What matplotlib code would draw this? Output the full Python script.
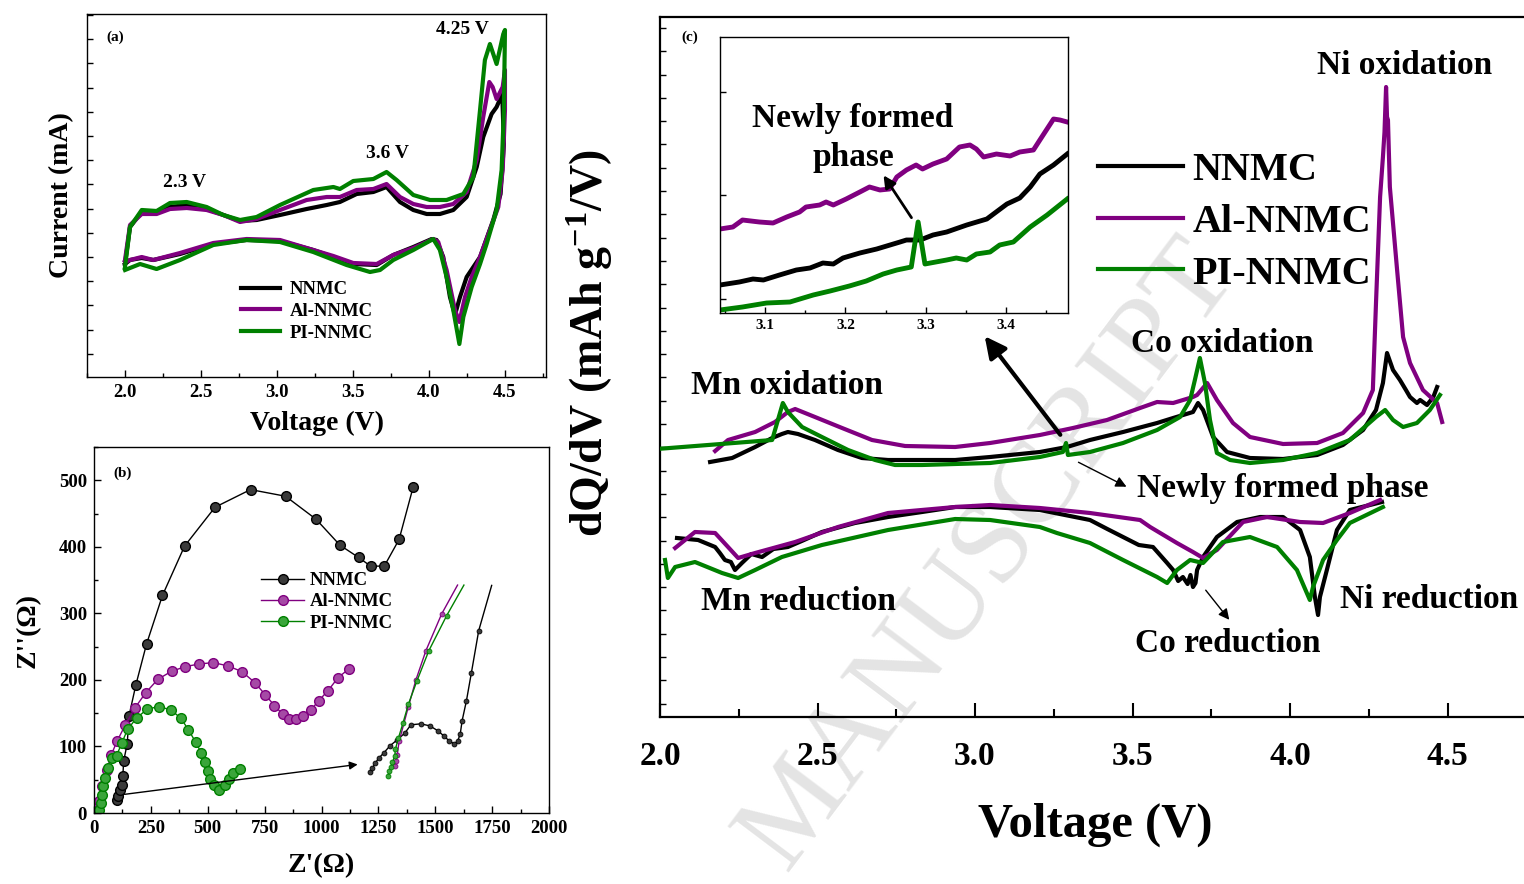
import numpy as np
import matplotlib
matplotlib.use('Agg')
import matplotlib.pyplot as plt
from matplotlib.ticker import MultipleLocator, NullFormatter

plt.rcParams['font.family'] = ['Liberation Serif', 'DejaVu Serif']
plt.rcParams['font.weight'] = 'bold'
plt.rcParams['axes.labelweight'] = 'bold'
plt.rcParams['mathtext.fontset'] = 'custom'
plt.rcParams['mathtext.rm'] = 'Liberation Serif:bold'
plt.rcParams['mathtext.bf'] = 'Liberation Serif:bold'
plt.rcParams['mathtext.it'] = 'Liberation Serif:bold'

BLK = 'black'
PUR = '#800080'
GRN = '#008000'
labels = ['NNMC', 'Al-NNMC', 'PI-NNMC']

# ---------- (a) CV curves (voltage V, current arb.) ----------
cv_nnmc_v = [2.000, 2.033, 2.110, 2.208, 2.296, 2.406, 2.537, 2.647, 2.757, 2.866, 3.020, 3.195, 3.327,
             3.414, 3.524, 3.634, 3.721, 3.809, 3.897, 3.985, 4.072, 4.160, 4.248, 4.314, 4.357, 4.412,
             4.445, 4.482, 4.493, 4.471, 4.423, 4.336, 4.292, 4.248, 4.204, 4.171, 4.138, 4.094, 4.050,
             4.018, 3.897, 3.765, 3.656, 3.502, 3.371, 3.239, 3.020, 2.800, 2.581, 2.362, 2.186, 2.110,
             2.033, 2.000]
cv_nnmc_i = [11.3, 15.0, 16.5, 16.4, 17.0, 17.2, 16.8, 16.2, 15.6, 15.7, 16.2, 16.8, 17.2,
             17.5, 18.3, 18.5, 19.0, 17.5, 16.7, 16.3, 16.3, 16.7, 18.0, 21.0, 24.0, 26.3,
             27.0, 28.3, 23.3, 18.3, 15.7, 12.0, 11.0, 10.0, 8.0, 6.2, 8.0, 12.0, 13.7,
             13.8, 13.0, 12.2, 11.2, 11.3, 12.0, 12.7, 13.6, 13.7, 13.3, 12.3, 11.7, 11.9,
             11.7, 11.3]

cv_al_v = [2.000, 2.033, 2.110, 2.208, 2.296, 2.406, 2.537, 2.647, 2.757, 2.866, 3.020, 3.195, 3.327,
           3.414, 3.524, 3.634, 3.721, 3.809, 3.897, 3.985, 4.072, 4.160, 4.248, 4.314, 4.357, 4.397,
           4.419, 4.445, 4.485, 4.500, 4.500, 4.485, 4.456, 4.401, 4.336, 4.281, 4.237, 4.200, 4.171,
           4.116, 4.061, 4.028, 3.897, 3.765, 3.656, 3.502, 3.371, 3.239, 3.020, 2.800, 2.581, 2.362,
           2.186, 2.110, 2.033, 2.000]
cv_al_i = [11.7, 15.2, 16.3, 16.3, 16.8, 16.9, 16.7, 16.2, 15.5, 15.8, 16.7, 17.7, 18.0,
           18.0, 18.7, 18.8, 19.3, 18.0, 17.3, 17.0, 17.0, 17.3, 18.5, 21.7, 26.0, 29.5,
           29.0, 27.8, 29.0, 30.7, 26.7, 20.7, 17.0, 14.7, 12.0, 10.0, 8.0, 5.5, 6.7,
           10.7, 13.5, 13.8, 12.9, 12.2, 11.3, 11.4, 12.1, 12.7, 13.7, 13.8, 13.4, 12.4,
           11.7, 12.0, 11.7, 11.5]

cv_pi_v = [2.000, 2.033, 2.110, 2.208, 2.296, 2.406, 2.537, 2.647, 2.757, 2.866, 3.020, 3.239, 3.371,
           3.414, 3.502, 3.634, 3.721, 3.787, 3.897, 4.007, 4.116, 4.226, 4.292, 4.336, 4.368, 4.401,
           4.445, 4.489, 4.500, 4.493, 4.478, 4.445, 4.379, 4.336, 4.281, 4.226, 4.200, 4.160, 4.116,
           4.072, 4.028, 3.897, 3.765, 3.678, 3.612, 3.458, 3.239, 3.020, 2.800, 2.581, 2.362, 2.208,
           2.099, 2.000]
cv_pi_i = [11.0, 15.0, 16.7, 16.6, 17.4, 17.5, 17.0, 16.2, 15.7, 16.0, 17.2, 18.7, 19.0,
           18.8, 19.6, 19.8, 20.5, 19.7, 18.2, 17.7, 17.7, 18.3, 20.0, 26.7, 31.7, 33.3,
           31.3, 34.3, 34.7, 26.7, 20.7, 16.7, 13.3, 11.3, 9.0, 6.0, 3.3, 6.7, 10.0,
           12.7, 13.8, 12.7, 11.7, 10.7, 10.5, 11.2, 12.5, 13.5, 13.7, 13.2, 11.7, 10.8,
           11.3, 10.7]

# ---------- (b) Nyquist data (ohm) ----------
nnmc_zr = [102, 106, 114, 122, 127, 130, 146, 154, 184, 231, 301, 398, 532, 688, 842, 976, 1081, 1163,
           1216, 1276, 1341, 1403]
nnmc_zi = [19, 26, 35, 42.5, 55, 77.5, 104, 146, 192.5, 254, 327, 401, 459.5, 486, 476, 441.5, 402.5,
           384, 371, 371, 411, 490]
al_zr = [11, 21, 37, 57, 76, 102, 138, 179, 228, 281, 341, 402, 463, 525, 589, 650, 707, 753, 793, 829,
         859, 889, 919, 954, 987, 1029, 1073, 1122]
al_zi = [5, 17.5, 40, 65, 87.5, 108.5, 132.5, 157.5, 181, 201, 213, 220, 224, 226, 221, 212.5, 196,
         177.5, 161.5, 148.5, 141, 141, 146.5, 155, 168.5, 184, 203.5, 217]
pi_zr = [24, 29, 34, 41, 49, 62, 78, 99, 122, 148, 187, 233, 285, 337, 382, 415, 447, 472, 488, 499,
         512, 528, 550, 574, 593, 613, 642]
pi_zi = [5, 15, 27.5, 40, 52.5, 67.5, 82.5, 86, 105, 126, 142.5, 156, 160, 155, 142.5, 125, 106.5, 90,
         76, 62.5, 51, 42.5, 35, 42.5, 51, 60, 66]
# enlarged high-frequency region drawn on the right
nnmc_zr_zoom = [1215, 1224, 1236, 1252, 1273, 1301, 1333, 1366, 1393, 1436, 1476, 1512, 1537, 1561,
                1582, 1598, 1610, 1618, 1637, 1659, 1691, 1748]
nnmc_zi_zoom = [61, 67.5, 75, 82.5, 90, 101, 110, 120, 132.5, 134, 131, 123.5, 116, 108.5, 104, 107.5,
                119, 138.5, 168.5, 211, 274, 342]
al_zr_zoom = [1322, 1328, 1333, 1341, 1382, 1415, 1459, 1528, 1598]
al_zi_zoom = [71, 78.5, 87.5, 107.5, 160, 200, 244, 299, 342.5]
pi_zr_zoom = [1293, 1298, 1304, 1312, 1322, 1325, 1338, 1358, 1382, 1420, 1472, 1550, 1626]
pi_zi_zoom = [56, 62.5, 68.5, 76, 86, 96, 112.5, 135, 163.5, 199, 244, 296.5, 342.5]

# ---------- (c) dQ/dV (voltage V, arb.) ----------
ch_nnmc_v = [2.159, 2.229, 2.302, 2.356, 2.387, 2.406, 2.438, 2.492, 2.565, 2.641, 2.724, 2.832, 2.937,
             3.048, 3.206, 3.292, 3.365, 3.470, 3.578, 3.629, 3.692, 3.708, 3.724, 3.756, 3.800, 3.873,
             3.978, 4.086, 4.168, 4.232, 4.273, 4.295, 4.308, 4.327, 4.349, 4.368, 4.381, 4.403, 4.413,
             4.435, 4.455, 4.467]
ch_nnmc_y = [25.5, 25.9, 27.0, 27.9, 28.3, 28.5, 28.3, 27.7, 26.7, 25.9, 25.7, 25.7, 25.7,
             26.0, 26.5, 27.0, 27.7, 28.5, 29.4, 29.9, 30.5, 31.4, 30.7, 28.0, 26.5, 25.9,
             25.8, 26.2, 27.2, 28.7, 30.7, 33.4, 36.4, 34.7, 33.7, 32.7, 32.0, 31.4, 31.7,
             31.2, 32.0, 33.0]
ch_al_v = [2.175, 2.216, 2.302, 2.365, 2.406, 2.429, 2.492, 2.578, 2.673, 2.778, 2.937, 3.048, 3.206,
           3.311, 3.419, 3.524, 3.578, 3.629, 3.692, 3.705, 3.737, 3.768, 3.819, 3.873, 3.978, 4.086,
           4.168, 4.232, 4.263, 4.273, 4.286, 4.295, 4.300, 4.305, 4.308, 4.311, 4.317, 4.340, 4.359,
           4.381, 4.422, 4.467, 4.483]
ch_al_y = [26.6, 27.7, 28.5, 29.5, 30.5, 30.8, 30.0, 28.9, 27.7, 27.1, 27.0, 27.4, 28.2,
           28.9, 29.7, 30.9, 31.5, 31.4, 32.0, 32.2, 33.4, 31.7, 29.4, 28.0, 27.3, 27.4,
           28.4, 30.4, 32.7, 41.4, 52.0, 56.0, 58.5, 63.0, 60.0, 59.7, 53.0, 44.7, 38.0,
           35.4, 32.7, 31.4, 29.5]
ch_pi_v = [1.990, 2.356, 2.390, 2.406, 2.451, 2.514, 2.597, 2.683, 2.746, 2.832, 2.937, 3.048, 3.206,
           3.279, 3.289, 3.295, 3.365, 3.470, 3.578, 3.651, 3.683, 3.698, 3.714, 3.730, 3.746, 3.768,
           3.810, 3.873, 3.978, 4.086, 4.190, 4.273, 4.302, 4.327, 4.359, 4.403, 4.444, 4.476]
ch_pi_y = [26.8, 27.7, 31.4, 30.5, 29.0, 28.0, 26.7, 25.7, 25.2, 25.2, 25.3, 25.4, 26.0,
           26.5, 27.4, 26.2, 26.5, 27.4, 28.7, 30.0, 31.7, 33.7, 35.9, 33.4, 29.7, 26.4,
           25.7, 25.4, 25.7, 26.4, 27.7, 30.0, 30.7, 29.7, 29.0, 29.4, 30.7, 32.2]

dis_nnmc_v = [4.292, 4.190, 4.149, 4.117, 4.095, 4.089, 4.079, 4.063, 4.032, 3.978, 3.905, 3.832, 3.768,
              3.724, 3.705, 3.700, 3.692, 3.684, 3.675, 3.660, 3.645, 3.629, 3.610, 3.565, 3.520, 3.470,
              3.420, 3.365, 3.206, 3.048, 2.937, 2.832, 2.724, 2.619, 2.514, 2.450, 2.406, 2.360, 2.324,
              2.290, 2.260, 2.238, 2.225, 2.206, 2.190, 2.175, 2.121, 2.054]
dis_nnmc_y = [21.5, 20.7, 18.7, 14.7, 12.0, 10.2, 12.0, 16.0, 18.7, 20.0, 20.0, 19.5, 18.0,
              16.0, 14.7, 13.4, 13.0, 14.2, 13.3, 14.0, 13.6, 14.7, 15.4, 17.0, 17.2, 18.0,
              18.8, 19.7, 20.7, 21.0, 21.0, 20.5, 20.0, 19.4, 18.5, 17.6, 17.0, 16.8, 16.0,
              16.3, 15.4, 14.7, 15.5, 15.7, 16.4, 17.0, 17.7, 17.9]
dis_al_v = [4.286, 4.190, 4.105, 4.032, 3.927, 3.851, 3.768, 3.724, 3.692, 3.641, 3.556, 3.524, 3.365,
            3.206, 3.048, 2.937, 2.724, 2.565, 2.429, 2.302, 2.248, 2.216, 2.175, 2.111, 2.048]
dis_al_y = [21.7, 20.4, 19.4, 19.5, 20.0, 19.5, 16.7, 15.9, 16.5, 17.4, 19.0, 19.7, 20.4,
            20.9, 21.2, 21.0, 20.4, 19.0, 17.5, 16.4, 15.9, 17.0, 18.4, 18.5, 16.9]
dis_pi_v = [4.295, 4.190, 4.149, 4.105, 4.073, 4.063, 4.022, 3.959, 3.873, 3.787, 3.724, 3.683, 3.641,
            3.610, 3.578, 3.470, 3.365, 3.260, 3.206, 3.048, 2.937, 2.724, 2.514, 2.387, 2.302, 2.248,
            2.197, 2.111, 2.048, 2.025, 2.016]
dis_pi_y = [21.0, 19.4, 17.7, 15.7, 13.0, 11.7, 14.7, 17.0, 18.0, 17.5, 15.4, 15.7, 14.7,
            13.4, 14.0, 15.7, 17.4, 18.4, 19.0, 19.7, 19.8, 18.7, 17.2, 16.0, 14.7, 13.9,
            14.4, 15.5, 15.0, 13.9, 15.7]

# inset of (c): 3.04-3.48 V on the charge branch
ins_al_v = [3.044, 3.060, 3.072, 3.093, 3.110, 3.127, 3.143, 3.151, 3.168, 3.176, 3.185, 3.201, 3.218,
            3.230, 3.243, 3.255, 3.264, 3.276, 3.288, 3.296, 3.309, 3.326, 3.342, 3.355, 3.363, 3.372,
            3.388, 3.405, 3.417, 3.434, 3.442, 3.459, 3.467, 3.476]
ins_al_y = [8.4, 8.6, 9.3, 9.1, 9.0, 9.6, 10.1, 10.6, 10.8, 11.1, 10.8, 11.4, 12.1,
            12.6, 12.3, 12.4, 13.6, 14.3, 14.8, 14.4, 14.9, 15.4, 16.6, 16.8, 16.4, 15.6,
            15.9, 15.7, 16.1, 16.3, 17.3, 19.4, 19.3, 19.1]
ins_nnmc_v = [3.044, 3.068, 3.085, 3.098, 3.118, 3.139, 3.156, 3.172, 3.185, 3.197, 3.218, 3.239, 3.268,
              3.276, 3.293, 3.309, 3.326, 3.351, 3.376, 3.401, 3.417, 3.430, 3.442, 3.459, 3.476]
ins_nnmc_y = [2.8, 3.1, 3.4, 3.3, 3.8, 4.3, 4.5, 5.0, 4.9, 5.5, 6.0, 6.4, 7.1,
              7.3, 7.3, 7.8, 8.1, 8.8, 9.4, 10.9, 11.5, 12.6, 13.9, 14.8, 15.9]
ins_pi_v = [3.044, 3.072, 3.102, 3.131, 3.160, 3.181, 3.205, 3.226, 3.247, 3.264, 3.282, 3.2905, 3.299,
            3.326, 3.338, 3.351, 3.363, 3.380, 3.392, 3.409, 3.430, 3.451, 3.476]
ins_pi_y = [0.3, 0.6, 1.0, 1.1, 1.8, 2.2, 2.7, 3.2, 3.9, 4.3, 4.6, 9.1, 4.9,
            5.3, 5.5, 5.3, 5.9, 6.1, 6.8, 7.1, 8.6, 9.8, 11.4]

W, H = 1524, 884


def fx(px):
    return px / W


def fy(py):
    return 1 - py / H


fig = plt.figure(figsize=(W / 100, H / 100), dpi=100)

# ================= panel (a) =================
ax_a = fig.add_axes([fx(87), fy(377), fx(546) - fx(87), fy(14) - fy(377)])
for v, i, c, lab in zip([cv_nnmc_v, cv_al_v, cv_pi_v], [cv_nnmc_i, cv_al_i, cv_pi_i],
                        [BLK, PUR, GRN], labels):
    ax_a.plot(v, i, color=c, lw=3, label=lab, solid_joinstyle='round')
ax_a.set_xlim(1.75, 4.77)
ax_a.set_ylim(0, 36.3)
ax_a.xaxis.set_major_locator(MultipleLocator(0.5))
ax_a.xaxis.set_minor_locator(MultipleLocator(0.25))
ax_a.set_yticks(np.arange(2.33, 36.3, 2.42))
ax_a.yaxis.set_major_formatter(NullFormatter())
ax_a.tick_params(direction='in', labelsize=13.5, pad=5, length=5, width=1)
ax_a.tick_params(which='minor', direction='in', length=3, width=1)
ax_a.tick_params(axis='y', length=4)
for s in ax_a.spines.values():
    s.set_linewidth(1)
ax_a.set_xlabel('Voltage (V)', fontsize=20)
ax_a.xaxis.set_label_coords(0.5, (377 - 423) / 363)
ax_a.xaxis.label.set_va('center')
ax_a.set_ylabel('Current (mA)', fontsize=20)
ax_a.yaxis.set_label_coords((62 - 87) / 459, 0.5)
ax_a.yaxis.label.set_va('center')
ax_a.legend(loc='upper left', bbox_to_anchor=(fx(241), fy(281)), bbox_transform=fig.transFigure,
            frameon=False, fontsize=13.5, handlelength=2.1, handletextpad=0.5, labelspacing=0.25,
            borderpad=0, borderaxespad=0)
fig.text(fx(115), fy(37), '(a)', fontsize=11, ha='center', va='center')
fig.text(fx(185), fy(183), '2.3 V', fontsize=14, ha='center', va='center')
fig.text(fx(388), fy(154), '3.6 V', fontsize=14, ha='center', va='center')
fig.text(fx(462), fy(30), '4.25 V', fontsize=14, ha='center', va='center')

# ================= panel (b) =================
ax_b = fig.add_axes([fx(94), fy(813), fx(549) - fx(94), fy(447) - fy(813)])
sty = [(BLK, '#3a3a3a'), (PUR, '#a54aa5'), (GRN, '#3aa53a')]
for zr, zi, (c, fc), lab in zip([nnmc_zr, al_zr, pi_zr], [nnmc_zi, al_zi, pi_zi], sty, labels):
    ax_b.plot(zr, zi, color=c, lw=1, marker='o', ms=7, mfc=fc, mec=c, mew=1, label=lab)
for zr, zi, (c, fc) in zip([nnmc_zr_zoom, al_zr_zoom, pi_zr_zoom], [nnmc_zi_zoom, al_zi_zoom, pi_zi_zoom], sty):
    ax_b.plot(zr, zi, color=c, lw=1, marker='o', ms=3.5, mfc=fc, mec=c, mew=0.6,
              markevery=list(range(len(zr) - 1)))
ax_b.annotate('', xy=(1171, 73.5), xytext=(122, 27.5),
              arrowprops=dict(arrowstyle='-|>', color='black', lw=1, mutation_scale=12))
ax_b.set_xlim(0, 2000)
ax_b.set_ylim(0, 550)
ax_b.xaxis.set_major_locator(MultipleLocator(250))
ax_b.xaxis.set_minor_locator(MultipleLocator(125))
ax_b.yaxis.set_major_locator(MultipleLocator(100))
ax_b.yaxis.set_minor_locator(MultipleLocator(50))
ax_b.tick_params(direction='in', labelsize=13.5, pad=5, length=5, width=1)
ax_b.tick_params(which='minor', direction='in', length=3, width=1)
for s in ax_b.spines.values():
    s.set_linewidth(1)
ax_b.set_xlabel("Z'(\u03a9)", fontsize=20)
ax_b.xaxis.set_label_coords(0.5, (813 - 866) / 366)
ax_b.xaxis.label.set_va('center')
ax_b.set_ylabel("Z''(\u03a9)", fontsize=20)
ax_b.yaxis.set_label_coords((28 - 94) / 455, (813 - 630) / 366)
ax_b.yaxis.label.set_va('center')
ax_b.legend(loc='upper left', bbox_to_anchor=(fx(261), fy(572)), bbox_transform=fig.transFigure,
            frameon=False, fontsize=13.5, handlelength=2.3, handletextpad=0.3, labelspacing=0.22,
            borderpad=0, borderaxespad=0)
fig.text(fx(123), fy(473), '(b)', fontsize=11, ha='center', va='center')

# ================= panel (c) =================
ax_c = fig.add_axes([fx(660), fy(717), fx(1532) - fx(660), fy(17) - fy(717)])
for v, y, c, lab in zip([ch_nnmc_v, ch_al_v, ch_pi_v], [ch_nnmc_y, ch_al_y, ch_pi_y], [BLK, PUR, GRN], labels):
    ax_c.plot(v, y, color=c, lw=3, label=lab, zorder=3)
for v, y, c in zip([dis_nnmc_v, dis_al_v, dis_pi_v], [dis_nnmc_y, dis_al_y, dis_pi_y], [BLK, PUR, GRN]):
    ax_c.plot(v, y, color=c, lw=3, zorder=3)
ax_c.set_xlim(2.0, 2.0 + 872 / 315)
ax_c.set_ylim(0, 70)
ax_c.xaxis.set_major_locator(MultipleLocator(0.5))
ax_c.xaxis.set_minor_locator(MultipleLocator(0.25))
ax_c.set_yticks(np.arange(68.9, 0, -2.33))
ax_c.yaxis.set_major_formatter(NullFormatter())
ax_c.tick_params(axis='x', direction='in', labelsize=24, pad=17, length=10, width=1.5)
ax_c.tick_params(axis='x', which='minor', direction='in', length=5.5, width=1.5)
ax_c.tick_params(axis='y', direction='in', length=4, width=1)
ax_c.spines['right'].set_visible(False)
for s in ['left', 'bottom', 'top']:
    ax_c.spines[s].set_linewidth(1.6)
ax_c.set_xlabel('Voltage (V)', fontsize=35)
ax_c.xaxis.set_label_coords((1095 - 660) / 872, (717 - 825) / 700)
ax_c.xaxis.label.set_va('center')
ax_c.set_ylabel(r'dQ/dV (mAh g$^{-1}$/V)', fontsize=33)
ax_c.yaxis.set_label_coords((590 - 660) / 872, (717 - 343) / 700)
ax_c.yaxis.label.set_va('center')
ax_c.legend(loc='upper left', bbox_to_anchor=(fx(1098), fy(152)), bbox_transform=fig.transFigure,
            frameon=False, fontsize=29, handlelength=2.1, handletextpad=0.25, labelspacing=0.36,
            borderpad=0, borderaxespad=0)

# watermark behind the curves
ax_c.text(fx(990), fy(555), 'MANUSCRIPT', transform=fig.transFigure, fontsize=84, fontweight='normal',
          color='#e4e4e4', rotation=53, ha='center', va='center', rotation_mode='anchor',
          clip_on=False, zorder=1)

fig.text(fx(690), fy(37), '(c)', fontsize=11, ha='center', va='center')
fig.text(fx(1405), fy(65), 'Ni oxidation', fontsize=24, ha='center', va='center')
fig.text(fx(1222), fy(343), 'Co oxidation', fontsize=24, ha='center', va='center')
fig.text(fx(787), fy(385), 'Mn oxidation', fontsize=24, ha='center', va='center')
fig.text(fx(1137), fy(488), 'Newly formed phase', fontsize=24, ha='left', va='center')
fig.text(fx(798), fy(602), 'Mn reduction', fontsize=24, ha='center', va='center')
fig.text(fx(1340), fy(600), 'Ni reduction', fontsize=24, ha='left', va='center')
fig.text(fx(1228), fy(644), 'Co reduction', fontsize=24, ha='center', va='center')

arrow_kw = dict(xycoords='figure fraction', textcoords='figure fraction')
ax_c.annotate('', xy=(fx(983), fy(334)), xytext=(fx(1062), fy(437)), **arrow_kw,
              arrowprops=dict(arrowstyle='-|>', color='black', lw=3, mutation_scale=32), zorder=5)
ax_c.annotate('', xy=(fx(1129), fy(488)), xytext=(fx(1076), fy(461)), **arrow_kw,
              arrowprops=dict(arrowstyle='-|>', color='black', lw=1, mutation_scale=16), zorder=5)
ax_c.annotate('', xy=(fx(1231), fy(622)), xytext=(fx(1204), fy(588)), **arrow_kw,
              arrowprops=dict(arrowstyle='-|>', color='black', lw=1, mutation_scale=16), zorder=5)

# ---------- inset ----------
ax_in = fig.add_axes([fx(720), fy(313), fx(1068) - fx(720), fy(37) - fy(313)])
for v, y, c in zip([ins_nnmc_v, ins_al_v, ins_pi_v], [ins_nnmc_y, ins_al_y, ins_pi_y], [BLK, PUR, GRN]):
    ax_in.plot(v, y, color=c, lw=3.5)
ax_in.set_xlim(3.044, 3.477)
ax_in.set_ylim(0, 27.6)
ax_in.xaxis.set_major_locator(MultipleLocator(0.1))
ax_in.xaxis.set_minor_locator(MultipleLocator(0.05))
ax_in.set_yticks([1.43, 11.77, 22.1])
ax_in.yaxis.set_major_formatter(NullFormatter())
ax_in.tick_params(direction='in', labelsize=11, pad=4, length=4, width=1)
ax_in.tick_params(which='minor', direction='in', length=2.5, width=1)
for s in ax_in.spines.values():
    s.set_linewidth(1)
ax_in.text(fx(853), fy(138), 'Newly formed\nphase', transform=fig.transFigure, fontsize=24,
           ha='center', va='center', linespacing=1.3)
ax_in.annotate('', xy=(fx(882), fy(173)), xytext=(fx(913), fy(220)), **arrow_kw,
               arrowprops=dict(arrowstyle='-|>', color='black', lw=2, mutation_scale=18))

fig.savefig('out.png', dpi=100)
